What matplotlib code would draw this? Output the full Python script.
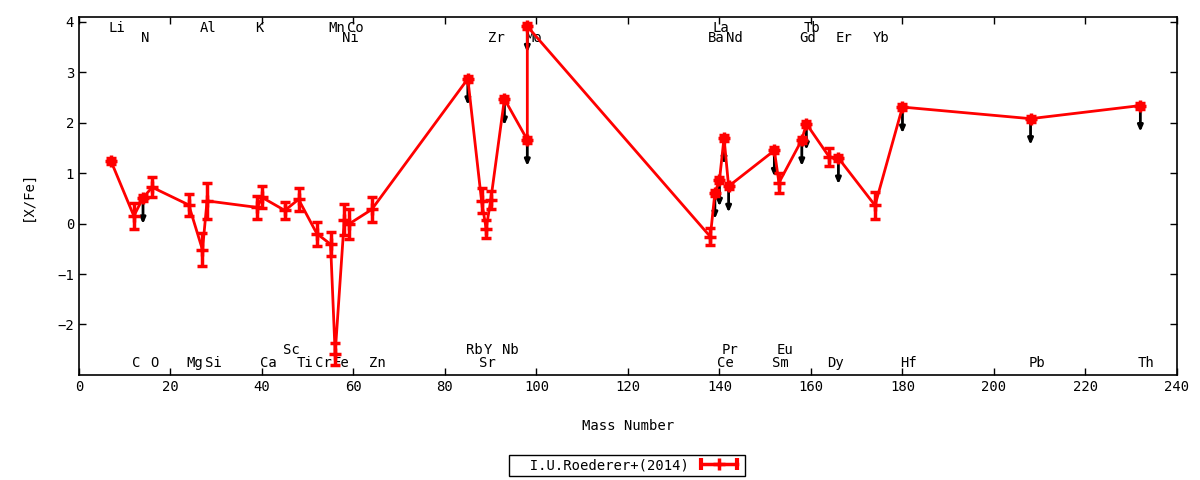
import numpy as np
import matplotlib
matplotlib.use('agg')
import matplotlib.pyplot as plt
from matplotlib.lines import Line2D
from matplotlib.legend_handler import HandlerLine2D, HandlerTuple

plt.rcParams['font.family'] = ['DejaVu Sans Mono']
plt.rcParams['font.size'] = 10

# data: mass number, [X/Fe], error, upper limit flag
mass = [7, 12, 14, 16, 24, 27, 28, 39, 40, 45, 48, 52, 55, 56, 58, 59, 64,
        85, 88, 89, 90, 93, 98, 98, 138, 139, 140, 141, 142, 152, 153,
        158, 159, 164, 166, 174, 180, 208, 232]
xfe = [1.24, 0.15, 0.51, 0.72, 0.37, -0.52, 0.45, 0.32, 0.52, 0.26, 0.48,
       -0.20, -0.41, -2.58, 0.08, -0.01, 0.28,
       2.87, 0.45, -0.10, 0.46, 2.47, 1.66, 3.91, -0.26, 0.61, 0.86, 1.70,
       0.74, 1.45, 0.81, 1.66, 1.98, 1.32, 1.30, 0.36, 2.31, 2.08, 2.34]
err = [0.06, 0.26, 0.06, 0.20, 0.22, 0.33, 0.36, 0.22, 0.22, 0.16, 0.23,
       0.24, 0.24, 0.22, 0.30, 0.29, 0.25,
       0.06, 0.25, 0.18, 0.18, 0.06, 0.06, 0.06, 0.17, 0.06, 0.06, 0.06,
       0.06, 0.06, 0.20, 0.06, 0.06, 0.18, 0.06, 0.27, 0.06, 0.06, 0.06]
ulim = [0, 0, 1, 0, 0, 0, 0, 0, 0, 0, 0, 0, 0, 0, 0, 0, 0,
        1, 0, 0, 0, 1, 1, 1, 0, 1, 1, 1, 1, 1, 0, 1, 1, 0, 1, 0, 1, 1, 1]

# element labels: name, mass number, row
lab_names = ['Li', 'Al', 'K', 'Mn', 'Co', 'La', 'Tb',
             'N', 'Ni', 'Zr', 'Mo', 'Ba', 'Nd', 'Gd', 'Er', 'Yb',
             'Sc', 'Rb', 'Y', 'Nb', 'Pr', 'Eu',
             'C', 'O', 'Mg', 'Si', 'Ca', 'Ti', 'Cr', 'Fe', 'Zn', 'Sr', 'Ce',
             'Sm', 'Dy', 'Hf', 'Pb', 'Th']
lab_mass = [7, 27, 39, 55, 59, 139, 159,
            14, 58, 90, 98, 138, 142, 158, 166, 174,
            45, 85, 89, 93, 141, 153,
            12, 16, 24, 28, 40, 48, 52, 56, 64, 88, 140, 152, 164, 180, 208, 232]
lab_row = [0] * 7 + [1] * 9 + [2] * 6 + [3] * 16
row_y = [3.88, 3.68, -2.50, -2.77]

fig = plt.figure(figsize=(12, 4.8), dpi=100)
ax = fig.add_axes([0.0658, 0.219, 0.915, 0.746])

ax.errorbar(mass, xfe, yerr=err, color='red', lw=2, marker='+', ms=9,
            mew=2.5, capsize=3.5, capthick=2.5, elinewidth=2.5, zorder=3)

# upper limit arrows
for m, v, u in zip(mass, xfe, ulim):
    if u:
        ax.annotate('', xy=(m, v - 0.52), xytext=(m, v),
                    arrowprops=dict(arrowstyle='-|>,head_length=0.35,head_width=0.15',
                                    color='black', lw=2, shrinkA=0, shrinkB=0),
                    zorder=2)

for name, m, r in zip(lab_names, lab_mass, lab_row):
    ax.text(m - 0.5, row_y[r], name, ha='left', va='center', zorder=1)

ax.set_xlim(0, 240)
ax.set_ylim(-3, 4.1)
ax.set_xticks(np.arange(0, 241, 20))
ax.set_yticks(np.arange(-2, 5, 1))
ax.tick_params(direction='in', top=True, right=True, length=5, width=1)
for s in ax.spines.values():
    s.set_linewidth(1.2)
ax.set_xlabel('Mass Number', labelpad=18)
ax.set_ylabel('[X/Fe]', labelpad=16)

# gnuplot style key: line with caps at the ends and a marker in the middle
cap_h = Line2D([], [], color='red', lw=2.5, marker='|', ms=9, mew=3)
mark_h = Line2D([], [], color='red', ls='none', marker='+', ms=9, mew=2.5)
leg = fig.legend([(cap_h, mark_h)], ['  I.U.Roederer+(2014)'],
                 handler_map={cap_h: HandlerLine2D(numpoints=2),
                              mark_h: HandlerLine2D(numpoints=1),
                              tuple: HandlerTuple(ndivide=1)},
                 markerfirst=False, loc='center', bbox_to_anchor=(0.5225, 0.031),
                 fancybox=False, edgecolor='black', framealpha=1,
                 handlelength=3.2, borderpad=0.25, handletextpad=0.6)
leg.get_frame().set_linewidth(1)

fig.savefig('out.png', dpi=100)
